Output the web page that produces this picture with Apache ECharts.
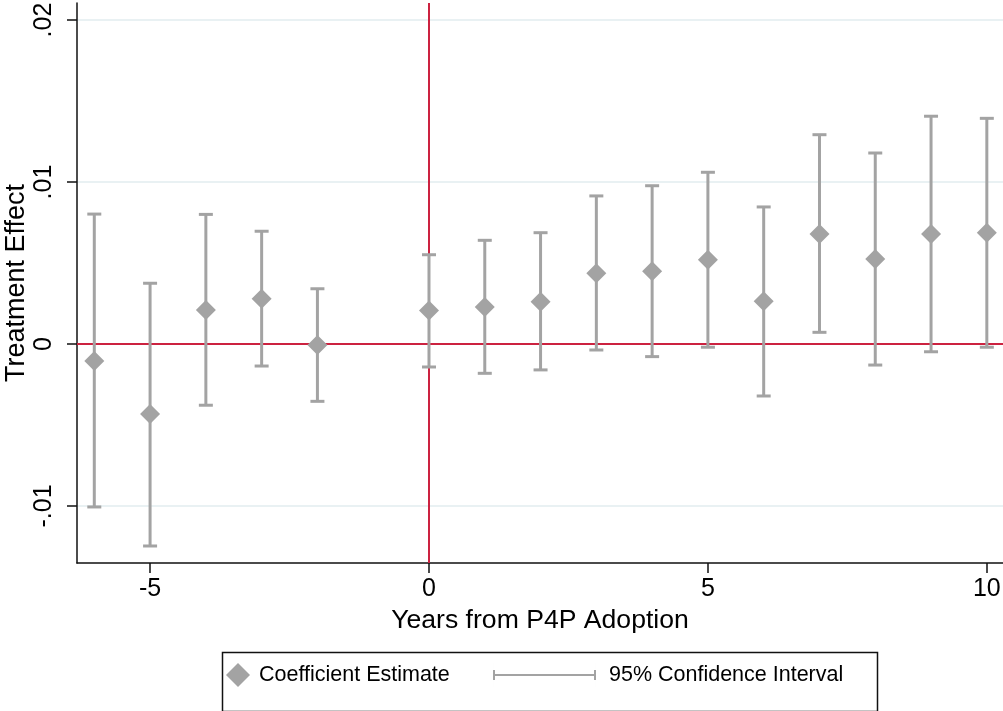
<!DOCTYPE html>
<html>
<head>
<meta charset="utf-8">
<script src="https://cdn.jsdelivr.net/npm/echarts@6/dist/echarts.min.js"></script>
<style>
html,body{margin:0;padding:0;background:#fff;}
#chart{width:1003px;height:711px;}
</style>
</head>
<body>
<div id="chart"></div>
<script>
// Event-time (years from P4P adoption)
const years = [-6, -5, -4, -3, -2, 0, 1, 2, 3, 4, 5, 6, 7, 8, 9, 10];
// Coefficient estimates
const estimates = [-0.00105, -0.00432, 0.0021, 0.0028, -0.00006, 0.00206, 0.00228, 0.00261, 0.00436, 0.00449, 0.0052, 0.00264, 0.00679, 0.00525, 0.00679, 0.00687];
// 95% CI lower / upper bounds
const ciLower = [-0.01006, -0.01247, -0.00378, -0.00136, -0.00354, -0.00142, -0.00181, -0.0016, -0.00037, -0.00078, -0.0002, -0.00321, 0.00072, -0.0013, -0.00048, -0.0002];
const ciUpper = [0.00802, 0.00375, 0.0080, 0.00696, 0.00341, 0.00551, 0.0064, 0.00687, 0.00914, 0.00977, 0.0106, 0.00846, 0.01292, 0.01179, 0.01406, 0.01393];
// Tick values and labels
const xTickValues = [-5, 0, 5, 10];
const xTickLabels = ['-5', '0', '5', '10'];
const yTickValues = [-0.01, 0, 0.01, 0.02];
const yTickLabels = ['-.01', '0', '.01', '.02'];
const gridLineValues = [-0.01, 0.01, 0.02];

const FONT = "'Liberation Sans', Arial, Helvetica, sans-serif";
const GRAY = '#a3a3a3';
const RED = '#cc2240';

const chart = echarts.init(document.getElementById('chart'), null, {renderer: 'canvas'});

const ciData = years.map((x, i) => [x, ciLower[i], ciUpper[i]]);
const estData = years.map((x, i) => [x, estimates[i]]);

const option = {
  animation: false,
  backgroundColor: '#fff',
  grid: {left: 77, right: 0, top: 3, bottom: 148, containLabel: false, outerBoundsMode: 'none'},
  xAxis: {
    type: 'value',
    min: -6.31,
    max: 10.29,
    name: 'Years from P4P Adoption',
    nameLocation: 'middle',
    nameGap: 41,
    nameTextStyle: {fontFamily: FONT, fontSize: 26.6, color: '#000'},
    axisLine: {show: true, onZero: false, lineStyle: {color: '#111', width: 1.5}},
    axisTick: {show: true, length: 10, customValues: xTickValues, lineStyle: {color: '#111', width: 1.5}},
    axisLabel: {
      show: true, margin: 14, customValues: xTickValues,
      fontFamily: FONT, fontSize: 25, color: '#000',
      formatter: v => { const i = xTickValues.indexOf(v); return i >= 0 ? xTickLabels[i] : ''; }
    },
    splitLine: {show: false}
  },
  yAxis: {
    type: 'value',
    min: -0.01352,
    max: 0.02105,
    name: 'Treatment Effect',
    nameLocation: 'middle',
    nameGap: 47,
    nameMoveOverlap: false,
    nameTextStyle: {fontFamily: FONT, fontSize: 27, color: '#000'},
    axisLine: {show: true, onZero: false, lineStyle: {color: '#111', width: 1.5}},
    axisTick: {show: true, length: 10, customValues: yTickValues, lineStyle: {color: '#111', width: 1.5}},
    axisLabel: {
      show: true, margin: 20, rotate: 90, customValues: yTickValues,
      fontFamily: FONT, fontSize: 25, color: '#000',
      formatter: v => {
        let best = -1, d = 1e9;
        yTickValues.forEach((t, i) => { if (Math.abs(t - v) < d) { d = Math.abs(t - v); best = i; } });
        return d < 1e-6 ? yTickLabels[best] : '';
      }
    },
    splitLine: {show: false}
  },
  legend: [
    {
      left: 226, top: 663, padding: 0,
      itemWidth: 24, itemHeight: 24,
      textStyle: {fontFamily: FONT, fontSize: 21.5, color: '#000', padding: [0, 0, 0, 4]},
      selectedMode: false,
      data: [{name: 'Coefficient Estimate', icon: 'diamond', itemStyle: {color: GRAY}}]
    },
    {
      left: 493, top: 663, padding: 0,
      itemWidth: 103, itemHeight: 24,
      textStyle: {fontFamily: FONT, fontSize: 21.5, color: '#000', padding: [0, 0, 0, 8]},
      selectedMode: false,
      data: [{name: '95% Confidence Interval', icon: 'path://M0,7h2v10h-2z M2,11h99v2h-99z M101,7h2v10h-2z M0,0h0.01v24h-0.01z M102.99,0h0.01v24h-0.01z', itemStyle: {color: GRAY, borderWidth: 0}}]
    }
  ],
  graphic: [
    {type: 'rect', left: 220, top: 650, shape: {width: 655, height: 59}, style: {fill: 'none', stroke: '#111', lineWidth: 1.5}, silent: true}
  ],
  series: [
    {
      type: 'line', data: [], z: 0, silent: true,
      markLine: {
        z: 0, silent: true, symbol: 'none', animation: false,
        label: {show: false},
        lineStyle: {color: '#e2ecef', width: 1.5, type: 'solid'},
        data: gridLineValues.map(v => ({yAxis: v}))
      }
    },
    {
      type: 'line', data: [], z: 1, silent: true,
      markLine: {
        z: 1, silent: true, symbol: 'none', animation: false,
        label: {show: false},
        lineStyle: {color: RED, width: 2, type: 'solid'},
        data: [{yAxis: 0}, {xAxis: 0}]
      }
    },
    {
      name: '95% Confidence Interval',
      type: 'custom',
      z: 2,
      itemStyle: {color: GRAY},
      encode: {x: 0, y: [1, 2]},
      data: ciData,
      renderItem: function (params, api) {
        const x = api.value(0), lo = api.value(1), hi = api.value(2);
        const pLo = api.coord([x, lo]);
        const pHi = api.coord([x, hi]);
        const hw = 7;
        const st = {stroke: GRAY, lineWidth: 3};
        return {
          type: 'group',
          children: [
            {type: 'line', shape: {x1: pLo[0], y1: pLo[1], x2: pHi[0], y2: pHi[1]}, style: st},
            {type: 'line', shape: {x1: pLo[0] - hw, y1: pLo[1], x2: pLo[0] + hw, y2: pLo[1]}, style: st},
            {type: 'line', shape: {x1: pHi[0] - hw, y1: pHi[1], x2: pHi[0] + hw, y2: pHi[1]}, style: st}
          ]
        };
      }
    },
    {
      name: 'Coefficient Estimate',
      type: 'scatter',
      z: 3,
      symbol: 'diamond',
      symbolSize: 20,
      itemStyle: {color: GRAY, opacity: 1},
      data: estData
    }
  ]
};
chart.setOption(option);
</script>
</body>
</html>
